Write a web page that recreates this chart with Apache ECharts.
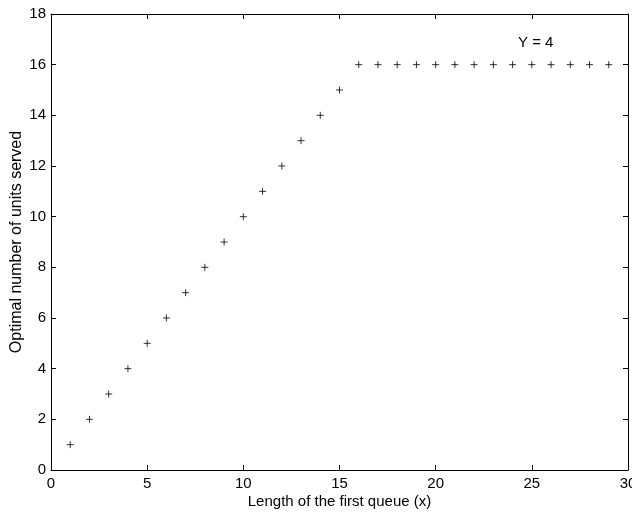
<!DOCTYPE html>
<html><head><meta charset="utf-8">
<script src="https://cdn.jsdelivr.net/npm/echarts@6/dist/echarts.min.js"></script>
<style>html,body{margin:0;padding:0;background:#fff}#c{width:632px;height:512px}</style>
</head><body><div id="c"></div>
<script>
var xValues = [1,2,3,4,5,6,7,8,9,10,11,12,13,14,15,16,17,18,19,20,21,22,23,24,25,26,27,28,29];
var yValues = [1,2,3,4,5,6,7,8,9,10,11,12,13,14,15,16,16,16,16,16,16,16,16,16,16,16,16,16,16];
var annotation = {text: 'Y = 4', x: 25.2, y: 16.86};
var xTitle = 'Length of the first queue (x)';
var yTitle = 'Optimal number of units served';

var chart = echarts.init(document.getElementById('c'));
var font = 'Liberation Sans, Arial, sans-serif';
var axisCommon = {
  axisLine: {show: true, onZero: false, lineStyle: {color: '#000', width: 1}},
  axisTick: {show: true, inside: true, length: 5, lineStyle: {color: '#000'}},
  splitLine: {show: false}
};
chart.setOption({
  animation: false,
  backgroundColor: '#fff',
  grid: {left: 51, top: 14, right: 4, bottom: 42, containLabel: false, outerBoundsMode: 'none'},
  xAxis: [
    Object.assign({type: 'value', position: 'bottom', min: 0, max: 30, interval: 5,
      name: xTitle, nameLocation: 'middle', nameGap: 24, nameMoveOverlap: false,
      nameTextStyle: {fontFamily: font, fontSize: 15, color: '#000'},
      axisLabel: {fontFamily: font, fontSize: 15, color: '#000', margin: 6}}, axisCommon),
    Object.assign({type: 'value', position: 'top', min: 0, max: 30, interval: 5,
      axisLabel: {show: false}}, axisCommon)
  ],
  yAxis: [
    Object.assign({type: 'value', position: 'left', min: 0, max: 18, interval: 2,
      name: yTitle, nameLocation: 'middle', nameGap: 26, nameMoveOverlap: false,
      nameTextStyle: {fontFamily: font, fontSize: 16, color: '#000'},
      axisLabel: {fontFamily: font, fontSize: 15, color: '#000', margin: 5}}, axisCommon),
    Object.assign({type: 'value', position: 'right', min: 0, max: 18, interval: 2,
      axisLabel: {show: false}}, axisCommon)
  ],
  series: [
    {
      type: 'scatter',
      xAxisIndex: 0, yAxisIndex: 0,
      data: xValues.map(function (x, i) { return [x, yValues[i]]; }),
      symbol: 'path://M0,4L8,4M4,0L4,8',
      symbolSize: 7,
      itemStyle: {color: 'rgba(0,0,0,0)', borderColor: '#000', borderWidth: 1},
      emphasis: {disabled: true},
      markPoint: {
        symbol: 'rect', symbolSize: 0,
        label: {show: true, formatter: annotation.text, fontFamily: font, fontSize: 15, color: '#000', position: 'inside'},
        data: [{coord: [annotation.x, annotation.y]}]
      }
    }
  ]
});
</script></body></html>
